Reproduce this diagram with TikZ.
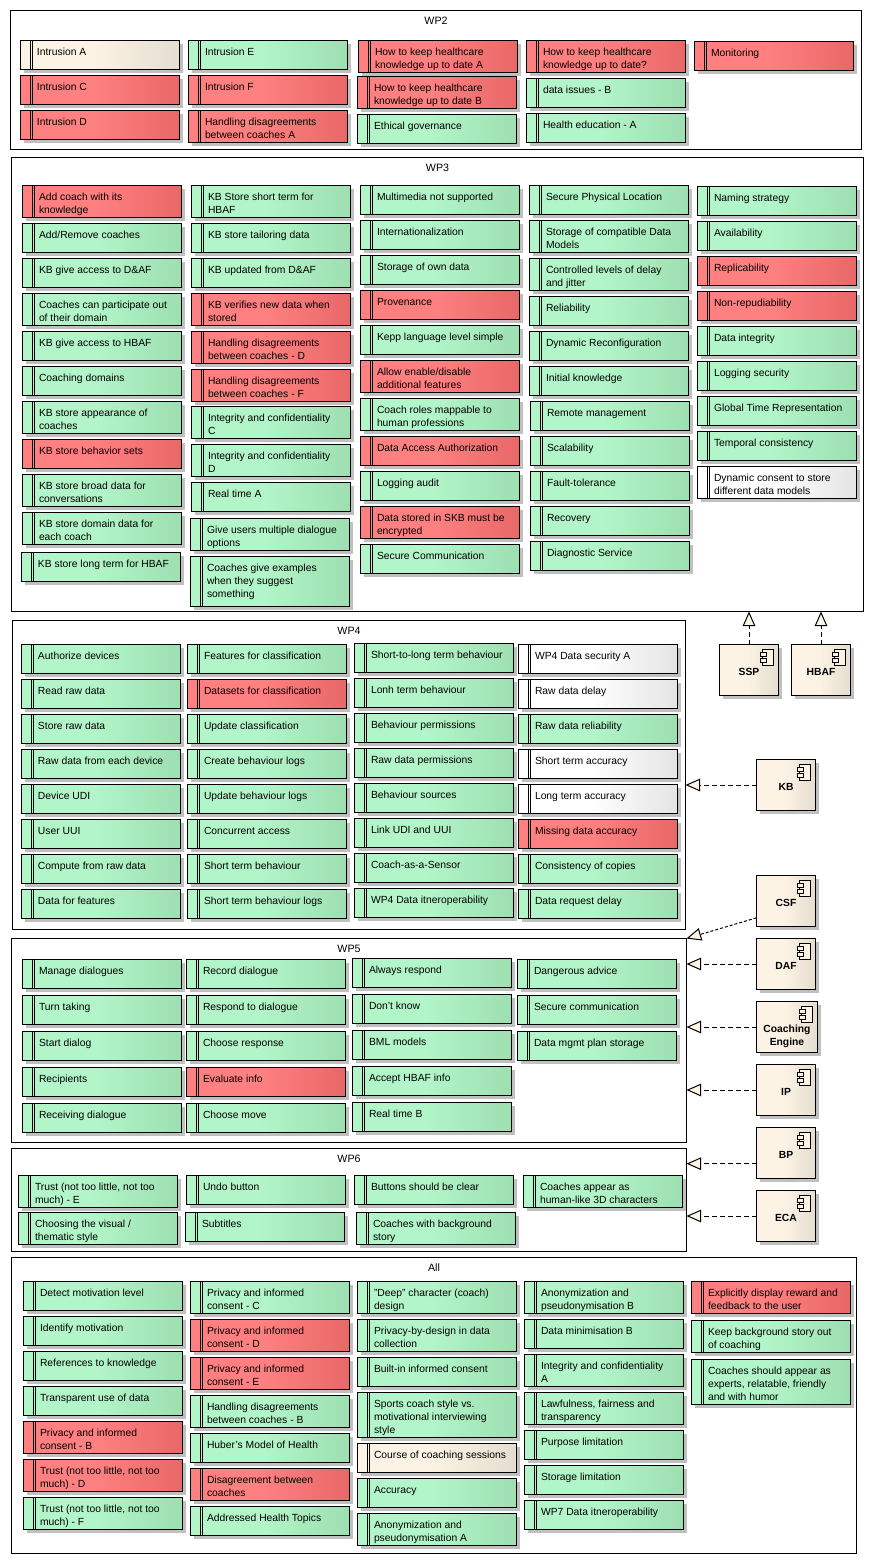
\documentclass[tikz,border=0pt]{standalone}
\usepackage{xcolor}
\usepackage{fontspec}
\usetikzlibrary{arrows.meta,shadows}
\setmainfont[Ligatures=Common]{Liberation Sans}
\definecolor{greenlo}{RGB}{178,245,200}
\definecolor{greenhi}{RGB}{157,223,177}
\definecolor{redlo}{RGB}{255,128,128}
\definecolor{redhi}{RGB}{232,104,104}
\definecolor{creamlo}{RGB}{252,243,229}
\definecolor{creamhi}{RGB}{229,221,207}
\definecolor{whitehi}{RGB}{228,228,228}
\definecolor{shadowgray}{RGB}{192,192,192}
\pgfdeclarehorizontalshading{shadegreen}{100bp}{color(0bp)=(greenlo); color(48bp)=(greenlo); color(75bp)=(greenhi); color(100bp)=(greenhi)}
\pgfdeclarehorizontalshading{shadered}{100bp}{color(0bp)=(redlo); color(48bp)=(redlo); color(75bp)=(redhi); color(100bp)=(redhi)}
\pgfdeclarehorizontalshading{shadecream}{100bp}{color(0bp)=(creamlo); color(48bp)=(creamlo); color(75bp)=(creamhi); color(100bp)=(creamhi)}
\pgfdeclarehorizontalshading{shadewhite}{100bp}{color(0bp)=(white); color(48bp)=(white); color(75bp)=(whitehi); color(100bp)=(whitehi)}
\newlength{\pxu}
\setlength{\pxu}{0.75pt}
\tikzset{
  basebox/.style={draw=black,line width=0.75pt,anchor=north west,inner sep=0pt,outer sep=0pt,
    font=\fontsize{7.75pt}{9.75pt}\selectfont,
    drop shadow={shadow xshift=2.25pt,shadow yshift=-2.25pt,fill=shadowgray,opacity=1}},
  reqgreen/.style={basebox,shading=shadegreen},
  reqred/.style={basebox,shading=shadered},
  reqcream/.style={basebox,shading=shadecream},
  reqwhite/.style={basebox,shading=shadewhite},
  compbox/.style={basebox,shading=shadecream},
  stripe/.style={line width=0.75pt},
  iconpart/.style={line width=0.75pt,fill=creamlo},
  wpframe/.style={draw=black,line width=0.75pt,anchor=north west,inner sep=0pt,outer sep=0pt},
  wptitle/.style={anchor=center,yshift=-7.5pt,inner sep=0pt,font=\fontsize{8pt}{9.75pt}\selectfont},
  realizes/.style={line width=0.75pt,dash pattern=on 3.75pt off 2.25pt,
    -{Triangle[fill=creamlo,length=11pt,width=9.5pt,line width=0.75pt]}},
}
\newcommand{\req}[6]{%
  \node[#1] (#2) at (#3,#4) {\parbox[t][#5\pxu][t]{159\pxu}{\raggedright\leftskip=16.5\pxu\parindent=0pt\rule{0pt}{14.5\pxu}#6}};
  \draw[stripe] ([xshift=7.5pt]#2.north west) -- ([xshift=7.5pt]#2.south west);
  \draw[stripe] ([xshift=9pt]#2.north west) -- ([xshift=9pt]#2.south west);}
\newcommand{\comp}[5]{%
  \node[compbox] (#1) at (#2,#3) {\parbox[t][51\pxu][t]{#4\pxu}{\centering\bfseries\rule{0pt}{31\pxu}#5}};
  \draw[iconpart] ([shift={(-12pt,-3.75pt)}]#1.north east) rectangle ([shift={(-3.75pt,-15.75pt)}]#1.north east);
  \draw[iconpart] ([shift={(-13.5pt,-6pt)}]#1.north east) rectangle ([shift={(-9pt,-9pt)}]#1.north east);
  \draw[iconpart] ([shift={(-13.5pt,-10.5pt)}]#1.north east) rectangle ([shift={(-9pt,-13.5pt)}]#1.north east);}
\begin{document}
\begin{tikzpicture}[x=0.75pt,y=-0.75pt]
  \useasboundingbox (-0.5,-0.5) rectangle (872.5,1562.5);

  % work package frames
  \node[wpframe,minimum width=851*0.75pt,minimum height=139*0.75pt,label={[wptitle]north:WP2}] (wp2) at (10,10) {};
  \node[wpframe,minimum width=852*0.75pt,minimum height=454*0.75pt,label={[wptitle]north:WP3}] (wp3) at (11,157) {};
  \node[wpframe,minimum width=673*0.75pt,minimum height=309*0.75pt,label={[wptitle]north:WP4}] (wp4) at (12,620) {};
  \node[wpframe,minimum width=675*0.75pt,minimum height=204*0.75pt,label={[wptitle]north:WP5}] (wp5) at (11,938) {};
  \node[wpframe,minimum width=675*0.75pt,minimum height=103*0.75pt,label={[wptitle]north:WP6}] (wp6) at (11,1148) {};
  \node[wpframe,minimum width=845*0.75pt,minimum height=296*0.75pt,label={[wptitle]north:All}] (all) at (11,1257) {};

  % WP2
  \req{reqcream}{intrA}{20}{40}{29}{Intrusion A}
  \req{reqred}{intrC}{20}{75}{29}{Intrusion C}
  \req{reqred}{intrD}{20}{110}{29}{Intrusion D}
  \req{reqgreen}{intrE}{188}{40}{29}{Intrusion E}
  \req{reqred}{intrF}{188}{75}{29}{Intrusion F}
  \req{reqred}{disagrA}{188}{110}{32}{Handling disagreements\\between coaches A}
  \req{reqred}{keepA}{358}{40}{32}{How to keep healthcare\\knowledge up to date A}
  \req{reqred}{keepB}{357}{76}{32}{How to keep healthcare\\knowledge up to date B}
  \req{reqgreen}{ethical}{357}{114}{29}{Ethical governance}
  \req{reqred}{keepQ}{526}{40}{32}{How to keep healthcare\\knowledge up to date?}
  \req{reqgreen}{issuesB}{526}{78}{29}{data issues - B}
  \req{reqgreen}{healthA}{526}{113}{29}{Health education - A}
  \req{reqred}{monitoring}{694}{41}{29}{Monitoring}

  % WP3
  \req{reqred}{addcoach}{22}{185}{32}{Add coach with its\\knowledge}
  \req{reqgreen}{addremove}{22}{223}{29}{Add/Remove coaches}
  \req{reqgreen}{kbdaf}{22}{258}{29}{KB give access to D\&AF}
  \req{reqgreen}{outdomain}{22}{293}{32}{Coaches can participate out\\of their domain}
  \req{reqgreen}{kbhbaf}{22}{331}{29}{KB give access to HBAF}
  \req{reqgreen}{domains}{22}{366}{29}{Coaching domains}
  \req{reqgreen}{appearance}{22}{401}{32}{KB store appearance of\\coaches}
  \req{reqred}{behavsets}{22}{439}{29}{KB store behavior sets}
  \req{reqgreen}{broad}{22}{474}{32}{KB store broad data for\\conversations}
  \req{reqgreen}{domaindata}{22}{512}{32}{KB store domain data for\\each coach}
  \req{reqgreen}{longhbaf}{21}{552}{29}{KB store long term for HBAF}
  \req{reqgreen}{shorthbaf}{191}{185}{32}{KB Store short term for\\HBAF}
  \req{reqgreen}{tailoring}{191}{223}{29}{KB store tailoring data}
  \req{reqgreen}{updated}{191}{258}{29}{KB updated from D\&AF}
  \req{reqred}{verifies}{191}{293}{32}{KB verifies new data when\\stored}
  \req{reqred}{disagrD}{191}{331}{32}{Handling disagreements\\between coaches - D}
  \req{reqred}{disagrF}{191}{369}{32}{Handling disagreements\\between coaches - F}
  \req{reqgreen}{integC}{191}{406}{32}{Integrity and confidentiality\\C}
  \req{reqgreen}{integD}{191}{444}{32}{Integrity and confidentiality\\D}
  \req{reqgreen}{realA}{191}{482}{29}{Real time A}
  \req{reqgreen}{multidlg}{190}{518}{32}{Give users multiple dialogue\\options}
  \req{reqgreen}{examples}{190}{556}{50}{Coaches give examples\\when they suggest\\something}
  \req{reqgreen}{multimedia}{360}{185}{29}{Multimedia not supported}
  \req{reqgreen}{i18n}{360}{220}{29}{Internationalization}
  \req{reqgreen}{owndata}{360}{255}{29}{Storage of own data}
  \req{reqred}{provenance}{360}{290}{29}{Provenance}
  \req{reqgreen}{langlevel}{360}{325}{29}{Kepp language level simple}
  \req{reqred}{enable}{360}{360}{32}{Allow enable/disable\\additional features}
  \req{reqgreen}{roles}{360}{398}{32}{Coach roles mappable to\\human professions}
  \req{reqred}{authz}{360}{436}{29}{Data Access Authorization}
  \req{reqgreen}{logaudit}{360}{471}{29}{Logging audit}
  \req{reqred}{encrypted}{360}{506}{32}{Data stored in SKB must be\\encrypted}
  \req{reqgreen}{securecomm}{360}{544}{29}{Secure Communication}
  \req{reqgreen}{physical}{529}{185}{29}{Secure Physical Location}
  \req{reqgreen}{compatible}{529}{220}{32}{Storage of compatible Data\\Models}
  \req{reqgreen}{jitter}{529}{258}{32}{Controlled levels of delay\\and jitter}
  \req{reqgreen}{reliability}{529}{296}{29}{Reliability}
  \req{reqgreen}{reconfig}{529}{331}{29}{Dynamic Reconfiguration}
  \req{reqgreen}{initial}{529}{366}{29}{Initial knowledge}
  \req{reqgreen}{remote}{530}{401}{29}{Remote management}
  \req{reqgreen}{scalability}{530}{436}{29}{Scalability}
  \req{reqgreen}{fault}{530}{471}{29}{Fault-tolerance}
  \req{reqgreen}{recovery}{530}{506}{29}{Recovery}
  \req{reqgreen}{diagnostic}{530}{541}{29}{Diagnostic Service}
  \req{reqgreen}{naming}{697}{186}{29}{Naming strategy}
  \req{reqgreen}{availability}{697}{221}{29}{Availability}
  \req{reqred}{replicability}{697}{256}{29}{Replicability}
  \req{reqred}{nonrep}{697}{291}{29}{Non-repudiability}
  \req{reqgreen}{dataint}{697}{326}{29}{Data integrity}
  \req{reqgreen}{logsec}{697}{361}{29}{Logging security}
  \req{reqgreen}{globaltime}{697}{396}{29}{Global Time Representation}
  \req{reqgreen}{temporal}{697}{431}{29}{Temporal consistency}
  \req{reqwhite}{dynconsent}{697}{466}{32}{Dynamic consent to store\\different data models}

  % WP4
  \req{reqgreen}{authdev}{21}{644}{29}{Authorize devices}
  \req{reqgreen}{readraw}{21}{679}{29}{Read raw data}
  \req{reqgreen}{storeraw}{21}{714}{29}{Store raw data}
  \req{reqgreen}{eachdev}{21}{749}{29}{Raw data from each device}
  \req{reqgreen}{devudi}{21}{784}{29}{Device UDI}
  \req{reqgreen}{useruui}{21}{819}{29}{User UUI}
  \req{reqgreen}{compraw}{21}{854}{29}{Compute from raw data}
  \req{reqgreen}{datafeat}{21}{889}{29}{Data for features}
  \req{reqgreen}{featclass}{187}{644}{29}{Features for classification}
  \req{reqred}{dataclass}{187}{679}{29}{Datasets for classification}
  \req{reqgreen}{updclass}{187}{714}{29}{Update classification}
  \req{reqgreen}{createlog}{187}{749}{29}{Create behaviour logs}
  \req{reqgreen}{updlog}{187}{784}{29}{Update behaviour logs}
  \req{reqgreen}{concurrent}{187}{819}{29}{Concurrent access}
  \req{reqgreen}{shortbeh}{187}{854}{29}{Short term behaviour}
  \req{reqgreen}{shortlog}{187}{889}{29}{Short term behaviour logs}
  \req{reqgreen}{shortlong}{354}{643}{29}{Short-to-long term behaviour}
  \req{reqgreen}{lonh}{354}{678}{29}{Lonh term behaviour}
  \req{reqgreen}{behperm}{354}{713}{29}{Behaviour permissions}
  \req{reqgreen}{rawperm}{354}{748}{29}{Raw data permissions}
  \req{reqgreen}{behsrc}{354}{783}{29}{Behaviour sources}
  \req{reqgreen}{linkudi}{354}{818}{29}{Link UDI and UUI}
  \req{reqgreen}{sensor}{354}{853}{29}{Coach-as-a-Sensor}
  \req{reqgreen}{wpfourinterop}{354}{888}{29}{WP4 Data itneroperability}
  \req{reqwhite}{wpfoursec}{518}{644}{29}{WP4 Data security A}
  \req{reqwhite}{rawdelay}{518}{679}{29}{Raw data delay}
  \req{reqgreen}{rawrel}{518}{714}{29}{Raw data reliability}
  \req{reqwhite}{shortacc}{518}{749}{29}{Short term accuracy}
  \req{reqwhite}{longacc}{518}{784}{29}{Long term accuracy}
  \req{reqred}{missacc}{518}{819}{29}{Missing data accuracy}
  \req{reqgreen}{copies}{518}{854}{29}{Consistency of copies}
  \req{reqgreen}{reqdelay}{518}{889}{29}{Data request delay}

  % WP5
  \req{reqgreen}{managedlg}{22}{959}{29}{Manage dialogues}
  \req{reqgreen}{turn}{22}{995}{29}{Turn taking}
  \req{reqgreen}{startdlg}{22}{1031}{29}{Start dialog}
  \req{reqgreen}{recipients}{22}{1067}{29}{Recipients}
  \req{reqgreen}{receiving}{22}{1103}{29}{Receiving dialogue}
  \req{reqgreen}{recorddlg}{186}{959}{29}{Record dialogue}
  \req{reqgreen}{respdlg}{186}{995}{29}{Respond to dialogue}
  \req{reqgreen}{chooseresp}{186}{1031}{29}{Choose response}
  \req{reqred}{evalinfo}{186}{1067}{29}{Evaluate info}
  \req{reqgreen}{choosemove}{186}{1103}{29}{Choose move}
  \req{reqgreen}{always}{352}{958}{29}{Always respond}
  \req{reqgreen}{dontknow}{352}{994}{29}{Don't know}
  \req{reqgreen}{bml}{352}{1030}{29}{BML models}
  \req{reqgreen}{accepthbaf}{352}{1066}{29}{Accept HBAF info}
  \req{reqgreen}{realB}{352}{1102}{29}{Real time B}
  \req{reqgreen}{dangerous}{517}{959}{29}{Dangerous advice}
  \req{reqgreen}{seccomm}{517}{995}{29}{Secure communication}
  \req{reqgreen}{mgmtplan}{517}{1031}{29}{Data mgmt plan storage}

  % WP6
  \req{reqgreen}{trustE}{18}{1175}{32}{Trust (not too little, not too\\much) - E}
  \req{reqgreen}{visual}{18}{1212}{32}{Choosing the visual /\\thematic style}
  \req{reqgreen}{undo}{186}{1175}{29}{Undo button}
  \req{reqgreen}{subtitles}{185}{1212}{29}{Subtitles}
  \req{reqgreen}{buttons}{354}{1175}{29}{Buttons should be clear}
  \req{reqgreen}{bgstory}{356}{1212}{32}{Coaches with background\\story}
  \req{reqgreen}{human}{523}{1175}{32}{Coaches appear as\\human-like 3D characters}

  % All
  \req{reqgreen}{detect}{23}{1281}{29}{Detect motivation level}
  \req{reqgreen}{identify}{23}{1316}{29}{Identify motivation}
  \req{reqgreen}{references}{23}{1351}{29}{References to knowledge}
  \req{reqgreen}{transparent}{23}{1386}{29}{Transparent use of data}
  \req{reqred}{privB}{23}{1421}{32}{Privacy and informed\\consent - B}
  \req{reqred}{trustD}{23}{1459}{32}{Trust (not too little, not too\\much) - D}
  \req{reqgreen}{trustF}{23}{1497}{32}{Trust (not too little, not too\\much) - F}
  \req{reqgreen}{privC}{190}{1281}{32}{Privacy and informed\\consent - C}
  \req{reqred}{privD}{190}{1319}{32}{Privacy and informed\\consent - D}
  \req{reqred}{privE}{190}{1357}{32}{Privacy and informed\\consent - E}
  \req{reqgreen}{disagrB}{190}{1395}{32}{Handling disagreements\\between coaches - B}
  \req{reqgreen}{huber}{190}{1433}{29}{Huber's Model of Health}
  \req{reqred}{disagr}{190}{1468}{32}{Disagreement between\\coaches}
  \req{reqgreen}{topics}{190}{1506}{29}{Addressed Health Topics}
  \req{reqgreen}{deep}{357}{1281}{32}{"Deep" character (coach)\\design}
  \req{reqgreen}{bydesign}{357}{1319}{32}{Privacy-by-design in data\\collection}
  \req{reqgreen}{builtin}{357}{1357}{29}{Built-in informed consent}
  \req{reqgreen}{sports}{357}{1392}{45}{Sports coach style vs.\\motivational interviewing\\style}
  \req{reqcream}{course}{357}{1443}{29}{Course of coaching sessions}
  \req{reqgreen}{accuracy}{357}{1478}{29}{Accuracy}
  \req{reqgreen}{anonA}{357}{1513}{32}{Anonymization and\\pseudonymisation A}
  \req{reqgreen}{anonB}{524}{1281}{32}{Anonymization and\\pseudonymisation B}
  \req{reqgreen}{minimB}{524}{1319}{29}{Data minimisation B}
  \req{reqgreen}{integA}{524}{1354}{32}{Integrity and confidentiality\\A}
  \req{reqgreen}{lawful}{524}{1392}{32}{Lawfulness, fairness and\\transparency}
  \req{reqgreen}{purpose}{524}{1430}{29}{Purpose limitation}
  \req{reqgreen}{storlimit}{524}{1465}{29}{Storage limitation}
  \req{reqgreen}{wpseveninterop}{524}{1500}{29}{WP7 Data itneroperability}
  \req{reqred}{reward}{691}{1281}{32}{Explicitly display reward and\\feedback to the user}
  \req{reqgreen}{keepstory}{691}{1320}{32}{Keep background story out\\of coaching}
  \req{reqgreen}{experts}{691}{1359}{45}{Coaches should appear as\\experts, relatable, friendly\\and with humor}

  % components
  \comp{ssp}{719}{644}{59}{SSP}
  \comp{hbaf}{791}{644}{59}{HBAF}
  \comp{kb}{756}{759}{59}{KB}
  \comp{csf}{756}{875}{59}{CSF}
  \comp{daf}{756}{938}{59}{DAF}
  \comp{engine}{756}{1001}{61}{Coaching\\Engine}
  \comp{ip}{756}{1064}{59}{IP}
  \comp{bp}{756}{1127}{59}{BP}
  \comp{eca}{756}{1190}{59}{ECA}

  % connectors
  \draw[realizes] (ssp.north) -- (ssp.north |- wp3.south);
  \draw[realizes] (hbaf.north) -- (hbaf.north |- wp3.south);
  \draw[realizes] (kb.west) -- (kb.west -| wp4.east);
  \draw[realizes,dash pattern=on 2.25pt off 1.5pt] ([yshift=6.5pt]csf.south west) -- (wp5.north east);
  \draw[realizes] (daf.west) -- (daf.west -| wp5.east);
  \draw[realizes] (engine.west) -- (engine.west -| wp5.east);
  \draw[realizes] (ip.west) -- (ip.west -| wp5.east);
  \draw[realizes] ([yshift=-8pt]bp.west) -- ([yshift=-8pt]bp.west -| wp6.east);
  \draw[realizes] (eca.west) -- (eca.west -| wp6.east);
\end{tikzpicture}
\end{document}
